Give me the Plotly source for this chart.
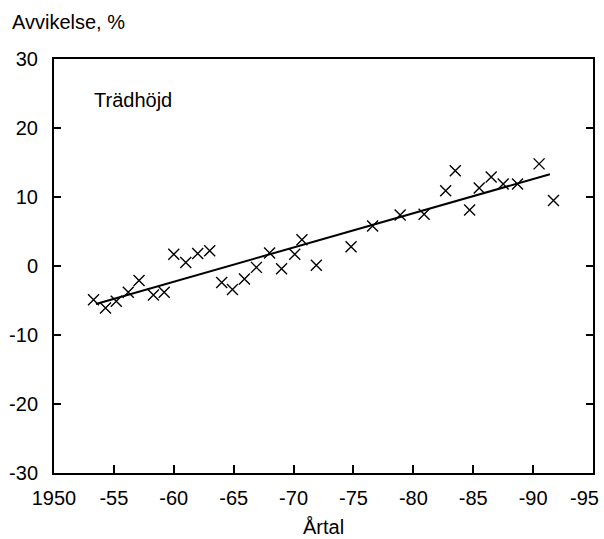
import plotly.graph_objects as go

# Data
years = [1953.3, 1954.3, 1955.2, 1956.2, 1957.1, 1958.3, 1959.2, 1960.0, 1961.0, 1962.0,
         1963.0, 1964.0, 1964.9, 1965.9, 1966.9, 1968.0, 1969.0, 1970.1, 1970.7, 1971.9,
         1974.8, 1976.6, 1978.9, 1980.9, 1982.7, 1983.5, 1984.7, 1985.5, 1986.5, 1987.5,
         1988.7, 1990.5, 1991.7]
values = [-4.9, -6.1, -5.1, -3.8, -2.1, -4.2, -3.8, 1.7, 0.5, 1.8,
          2.2, -2.4, -3.4, -1.9, -0.2, 1.9, -0.4, 1.7, 3.8, 0.1,
          2.8, 5.8, 7.4, 7.5, 10.9, 13.8, 8.1, 11.3, 12.9, 11.9,
          11.9, 14.8, 9.5]

trend_years = [1953.5, 1991.4]
trend_values = [-5.5, 13.3]

x_tickvals = [1950, 1955, 1960, 1965, 1970, 1975, 1980, 1985, 1990, 1995]
x_ticktext = ["1950", "-55", "-60", "-65", "-70", "-75", "-80", "-85", "-90", "-95"]
y_tickvals = [-30, -20, -10, 0, 10, 20, 30]
y_ticktext = ["-30", "-20", "-10", "0", "10", "20", "30"]

FONT = "Liberation Sans, Arial, sans-serif"
FS = 20

# last x tick label is drawn right-aligned so it stays inside the page
axis_ticktext = x_ticktext[:-1] + [""]

fig = go.Figure()
fig.add_trace(go.Scatter(
    x=trend_years, y=trend_values, mode="lines",
    line=dict(color="black", width=2), showlegend=False, hoverinfo="skip"))
fig.add_trace(go.Scatter(
    x=years, y=values, mode="markers",
    marker=dict(symbol="x-thin", size=11, line=dict(color="black", width=1.4), color="black"),
    showlegend=False))

fig.update_layout(
    width=604, height=539,
    margin=dict(l=54, r=11, t=59, b=66),
    paper_bgcolor="white", plot_bgcolor="white",
    font=dict(family=FONT, size=FS, color="black"),
    xaxis=dict(range=[1950, 1995], tickvals=x_tickvals, ticktext=axis_ticktext,
               ticks="inside", ticklen=8, tickwidth=1.5, tickcolor="black",
               showline=True, linecolor="black", linewidth=2, mirror=True,
               showgrid=False, zeroline=False, ticklabeloverflow="allow",
               ticklabelstandoff=6, automargin=False,
               tickfont=dict(family=FONT, size=FS, color="black")),
    yaxis=dict(range=[-30, 30], tickvals=y_tickvals, ticktext=y_ticktext,
               ticks="inside", ticklen=7, tickwidth=1.5, tickcolor="black",
               showline=True, linecolor="black", linewidth=2, mirror="ticks",
               showgrid=False, zeroline=False, ticklabelstandoff=10, automargin=False,
               tickfont=dict(family=FONT, size=FS, color="black")),
    annotations=[
        dict(text=x_ticktext[-1], xref="x", yref="paper",
             x=x_tickvals[-1], y=(473 - 498) / 414, xanchor="right", yanchor="middle",
             xshift=8, showarrow=False, font=dict(family=FONT, size=FS, color="black")),
        dict(text="Avvikelse, %", xref="paper", yref="paper",
             x=(10 - 54) / 539, y=(473 - 22) / 414, xanchor="left", yanchor="middle",
             showarrow=False, font=dict(family=FONT, size=FS, color="black")),
        dict(text="Trädhöjd", xref="paper", yref="paper",
             x=(92 - 54) / 539, y=(473 - 100) / 414, xanchor="left", yanchor="middle",
             showarrow=False, font=dict(family=FONT, size=FS, color="black")),
        dict(text="Årtal", xref="paper", yref="paper",
             x=0.5, y=(473 - 527) / 414, xanchor="center", yanchor="middle",
             showarrow=False, font=dict(family=FONT, size=FS, color="black")),
    ],
)

fig.write_html("out.html")
